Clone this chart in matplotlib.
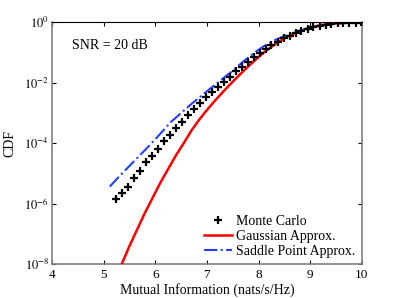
import numpy as np
import matplotlib.pyplot as plt

plt.rcParams['font.family'] = ['Liberation Serif', 'DejaVu Serif']
plt.rcParams['mathtext.fontset'] = 'stix'

# Monte Carlo samples (x in nats/s/Hz, log10 of CDF)
mc_x = [5.24, 5.36, 5.47, 5.59, 5.70, 5.82, 5.94, 6.05, 6.17, 6.28,
        6.40, 6.51, 6.63, 6.75, 6.86, 6.98, 7.09, 7.21, 7.33, 7.44,
        7.56, 7.67, 7.79, 7.91, 8.02, 8.14, 8.25, 8.37, 8.49, 8.60,
        8.72, 8.83, 8.95, 9.06, 9.18, 9.30, 9.41, 9.53, 9.64, 9.76,
        9.88, 9.99]
mc_log = [-5.83, -5.63, -5.43, -5.16, -4.91, -4.61, -4.41, -4.18, -3.93, -3.73,
          -3.50, -3.29, -3.07, -2.87, -2.68, -2.48, -2.30, -2.13, -1.96, -1.80,
          -1.62, -1.46, -1.30, -1.15, -1.01, -0.88, -0.76, -0.64, -0.53, -0.44,
          -0.36, -0.29, -0.22, -0.17, -0.12, -0.085, -0.055, -0.035, -0.02, -0.01,
          -0.005, -0.002]

# Gaussian approximation
gauss_x = [5.35, 5.50, 5.65, 5.80, 5.95, 6.10, 6.25, 6.40, 6.55, 6.70,
           6.85, 7.00, 7.15, 7.30, 7.45, 7.60, 7.75, 7.90, 8.05, 8.20,
           8.35, 8.50, 8.65, 8.80, 8.95, 9.10, 9.25, 9.40, 9.55, 9.70,
           9.85, 10.0]
gauss_log = [-8.00, -7.40, -6.85, -6.30, -5.80, -5.30, -4.85, -4.40, -4.00, -3.58,
             -3.22, -2.90, -2.60, -2.32, -2.05, -1.79, -1.54, -1.30, -1.07, -0.87,
             -0.69, -0.53, -0.40, -0.29, -0.20, -0.13, -0.08, -0.047, -0.026, -0.013,
             -0.005, -0.002]

# Saddle point approximation
saddle_x = [5.12, 5.30, 5.50, 5.70, 5.90, 6.10, 6.30, 6.50, 6.70, 6.90,
            7.10, 7.30, 7.50, 7.70, 7.90, 8.10, 8.30, 8.50, 8.70, 8.90,
            9.10, 9.30, 9.50, 9.70, 9.90, 10.0]
saddle_log = [-5.43, -5.10, -4.75, -4.40, -4.05, -3.68, -3.30, -3.00, -2.70, -2.42,
              -2.14, -1.87, -1.60, -1.30, -1.03, -0.79, -0.60, -0.45, -0.32, -0.22,
              -0.14, -0.08, -0.045, -0.02, -0.007, -0.004]

fig = plt.figure(figsize=(3.99, 2.98), dpi=100)
ax = fig.add_axes([0.130, 0.113, 0.777, 0.812])

ax.semilogy(mc_x, 10.0 ** np.array(mc_log), 'k+', ms=5.5, mew=1.6,
            label='Monte Carlo', zorder=4)
ax.semilogy(gauss_x, 10.0 ** np.array(gauss_log), color='#ff0000', lw=1.8,
            label='Gaussian Approx.', zorder=3)
ax.semilogy(saddle_x, 10.0 ** np.array(saddle_log), color='#2040ff', lw=1.5,
            ls='-.', label='Saddle Point Approx.', zorder=3)

ax.set_xlim(4, 10)
ax.set_ylim(1e-8, 1e0)
ax.set_xticks(range(4, 11))
ax.set_yticks([1e-8, 1e-6, 1e-4, 1e-2, 1e0])
ax.set_yticklabels([r'$10^{-8}$', r'$10^{-6}$', r'$10^{-4}$', r'$10^{-2}$', r'$10^{0}$'])
ax.minorticks_off()
ax.tick_params(direction='in', top=True, right=True, labelsize=9.5, length=3)
ax.tick_params(axis='y', labelsize=9, pad=2)

for side in ['left', 'right', 'bottom']:
    ax.spines[side].set_color('0.5')
    ax.spines[side].set_linewidth(1.2)
ax.spines['top'].set_color('k')
ax.spines['top'].set_linewidth(0.8)

ax.set_xlabel('Mutual Information (nats/s/Hz)', fontsize=10, labelpad=1)
ax.set_ylabel('CDF', fontsize=10)
ax.yaxis.set_label_coords(-0.115, 0.5)
ax.text(0.065, 0.905, 'SNR = 20 dB', transform=ax.transAxes, fontsize=10,
        va='center', ha='left')

ax.legend(loc='lower right', frameon=False, fontsize=10, handlelength=2.0,
          handletextpad=0.3, labelspacing=0.15, borderaxespad=0.05)

fig.savefig('out.png', dpi=100)
